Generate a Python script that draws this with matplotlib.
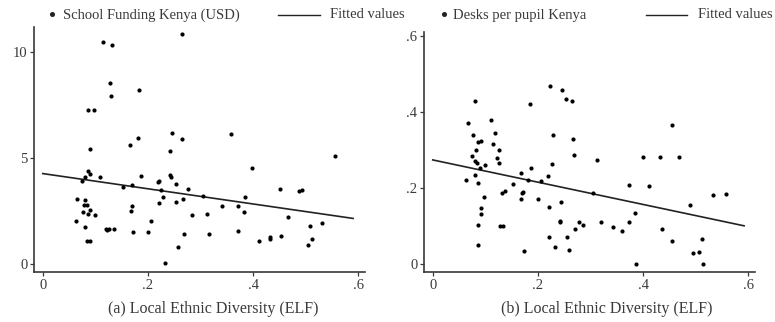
import numpy as np
import matplotlib
matplotlib.use("Agg")
import matplotlib.pyplot as plt
from matplotlib.lines import Line2D

# ---- data ----
# panel (a): school funding (USD) vs local ELF
elf_a = [0.264, 0.114, 0.132, 0.127, 0.129, 0.183, 0.086, 0.097, 0.246, 0.181,
         0.265, 0.166, 0.090, 0.241, 0.086, 0.090, 0.080, 0.075, 0.109, 0.186,
         0.241, 0.243, 0.221, 0.219, 0.152, 0.170, 0.253, 0.276, 0.224, 0.228,
         0.066, 0.080, 0.170, 0.221, 0.254, 0.267, 0.079, 0.084, 0.089, 0.077,
         0.086, 0.099, 0.167, 0.283, 0.063, 0.205, 0.080, 0.120, 0.123, 0.126,
         0.136, 0.171, 0.200, 0.269, 0.085, 0.090, 0.258, 0.232,
         0.357, 0.556, 0.398, 0.452, 0.488, 0.492, 0.304, 0.384, 0.340, 0.371,
         0.383, 0.312, 0.466, 0.530, 0.508, 0.317, 0.371, 0.411, 0.432, 0.432,
         0.453, 0.511, 0.505]
funding = [10.82, 10.45, 10.32, 8.52, 7.92, 8.18, 7.24, 7.24, 6.16, 5.93,
           5.89, 5.63, 5.41, 5.33, 4.39, 4.23, 4.12, 3.93, 4.09, 4.14,
           4.18, 4.09, 3.93, 3.87, 3.65, 3.71, 3.76, 3.53, 3.48, 3.18,
           3.09, 3.04, 2.73, 2.87, 2.93, 3.06, 2.77, 2.77, 2.54, 2.44,
           2.35, 2.30, 2.51, 2.30, 2.02, 2.05, 1.75, 1.66, 1.63, 1.66,
           1.66, 1.50, 1.53, 1.42, 1.09, 1.09, 0.80, 0.06,
           6.13, 5.09, 4.54, 3.55, 3.45, 3.48, 3.23, 3.15, 2.74, 2.74,
           2.44, 2.35, 2.22, 1.94, 1.79, 1.44, 1.57, 1.10, 1.27, 1.19,
           1.32, 1.17, 0.89]
fit_x_a = [0.0, 0.59]
fit_y_a = [4.27, 2.16]

# panel (b): desks per pupil vs local ELF
elf_b = [0.223, 0.246, 0.254, 0.265, 0.080, 0.184, 0.110, 0.067, 0.119, 0.077,
         0.229, 0.266, 0.086, 0.091, 0.115, 0.082, 0.126, 0.269, 0.075, 0.080,
         0.084, 0.123, 0.126, 0.226, 0.099, 0.090, 0.187, 0.167, 0.080, 0.220,
         0.063, 0.181, 0.205, 0.087, 0.153, 0.137, 0.131, 0.171, 0.170, 0.098,
         0.168, 0.201, 0.243, 0.091, 0.222, 0.091, 0.242, 0.242, 0.278, 0.285,
         0.270, 0.087, 0.128, 0.134, 0.222, 0.255, 0.086, 0.233, 0.260, 0.173,
         0.454, 0.313, 0.399, 0.433, 0.468, 0.373, 0.412, 0.532, 0.558, 0.490,
         0.304, 0.385, 0.319, 0.342, 0.359, 0.373, 0.435, 0.454, 0.511, 0.494,
         0.507, 0.387, 0.513]
desks = [0.468, 0.458, 0.433, 0.429, 0.429, 0.421, 0.379, 0.370, 0.344, 0.340,
         0.339, 0.330, 0.320, 0.324, 0.316, 0.301, 0.300, 0.288, 0.284, 0.271,
         0.267, 0.279, 0.265, 0.263, 0.261, 0.252, 0.252, 0.240, 0.235, 0.232,
         0.221, 0.221, 0.219, 0.213, 0.210, 0.193, 0.188, 0.191, 0.186, 0.177,
         0.172, 0.172, 0.163, 0.149, 0.150, 0.132, 0.115, 0.110, 0.112, 0.102,
         0.093, 0.102, 0.100, 0.100, 0.071, 0.072, 0.051, 0.045, 0.038, 0.035,
         0.366, 0.275, 0.282, 0.282, 0.282, 0.208, 0.205, 0.182, 0.184, 0.156,
         0.187, 0.135, 0.111, 0.097, 0.087, 0.111, 0.093, 0.062, 0.066, 0.029,
         0.033, 0.002, 0.002]
fit_x_b = [0.0, 0.592]
fit_y_b = [0.274, 0.101]

xticks = [0, 0.2, 0.4, 0.6]
xticklabels = ["0", ".2", ".4", ".6"]
yticks_a = [0, 5, 10]
yticklabels_a = ["0", "5", "10"]
yticks_b = [0, 0.2, 0.4, 0.6]
yticklabels_b = ["0", ".2", ".4", ".6"]

plt.rcParams['font.family'] = ['Liberation Serif', 'DejaVu Serif']
txt = '#3a3a3a'
axc = '#383838'
fs = 10.5

fig = plt.figure(figsize=(7.75, 3.22), dpi=100)
ax1 = fig.add_axes([0.0443, 0.1543, 0.4267, 0.7627])
ax2 = fig.add_axes([0.5475, 0.1543, 0.4267, 0.7472])

panels = [
    (ax1, elf_a, funding, fit_x_a, fit_y_a, yticks_a, yticklabels_a, (-0.376, 11.18),
     "School Funding Kenya (USD)", "(a) Local Ethnic Diversity (ELF)"),
    (ax2, elf_b, desks, fit_x_b, fit_y_b, yticks_b, yticklabels_b, (-0.021, 0.6105),
     "Desks per pupil Kenya", "(b) Local Ethnic Diversity (ELF)"),
]

for ax, x, y, fx, fy, yt, ytl, ylim, name, xlab in panels:
    ax.scatter(x, y, s=9, color='black', linewidths=0, zorder=3)
    ax.plot(fx, fy, color='#222222', lw=1.2, zorder=2)
    ax.set_xlim(-0.016, 0.6127)
    ax.set_ylim(*ylim)
    ax.set_xticks(xticks)
    ax.set_xticklabels(xticklabels)
    ax.set_yticks(yt)
    ax.set_yticklabels(ytl)
    for s in ['top', 'right']:
        ax.spines[s].set_visible(False)
    for s in ['left', 'bottom']:
        ax.spines[s].set_color(axc)
        ax.spines[s].set_linewidth(1.2)
    ax.tick_params(direction='out', length=3, width=0.9, color=axc,
                   labelsize=fs, labelcolor=txt, pad=2)

# axis titles sit a bit right of centre, as in the original
fig.text(213.5 / 775, 1 - 309 / 322, panels[0][9], ha='center', va='center',
         fontsize=11.5, color=txt)
fig.text(607 / 775, 1 - 309 / 322, panels[1][9], ha='center', va='center',
         fontsize=11.5, color=txt)

# Stata-style legends above each panel
for dot_x, name_x, l0, l1, fit_x, name in [(52, 63, 278, 320, 330, panels[0][8]),
                                           (444, 453, 646, 687, 698, panels[1][8])]:
    yy = 1 - 15 / 322
    fig.add_artist(Line2D([dot_x / 775], [yy + 0.004], marker='o', ms=2.6,
                          color='#222222', lw=0))
    fig.text(name_x / 775, yy, name, ha='left', va='center', fontsize=fs, color=txt)
    fig.add_artist(Line2D([l0 / 775, l1 / 775], [yy, yy], color='#222222', lw=1.0))
    fig.text(fit_x / 775, yy, "Fitted values", ha='left', va='center',
             fontsize=fs, color=txt)

fig.savefig("out.png", dpi=100)
